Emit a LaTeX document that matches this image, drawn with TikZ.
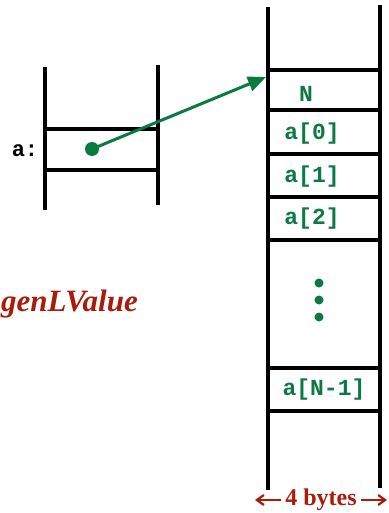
\documentclass[tikz,border=0pt]{standalone}
\usepackage{fontspec}
\setmainfont{Liberation Serif}
\setmonofont{Liberation Mono}
\usetikzlibrary{arrows.meta}
\definecolor{cgreen}{RGB}{10,122,65}
\definecolor{cred}{RGB}{170,28,10}
\begin{document}
\begin{tikzpicture}[x=1pt,y=-1pt,
  wall/.style={line width=3.5pt,black},
  cell/.style={font=\ttfamily\bfseries\fontsize{23}{23}\selectfont,text=cgreen,inner sep=0pt},
  redtxt/.style={font=\bfseries\fontsize{24}{24}\selectfont,text=cred,inner sep=0pt}]
\useasboundingbox (0,0) rectangle (388,513);
% left box
\draw[wall] (45,67) -- (45,210);
\draw[wall] (158,65) -- (158,205);
\draw[wall] (45,129) -- (158,129);
\draw[wall] (45,170) -- (158,170);
\node[font=\ttfamily\bfseries\fontsize{22}{22}\selectfont,inner sep=0pt] (alabel) at (25,151) {a:};
\node[circle,fill=cgreen,minimum size=14pt,inner sep=0pt] (dot) at (92,149) {};
% right column
\draw[wall] (268,7) -- (268,490);
\draw[wall] (380,5) -- (380,488);
\foreach \yy in {70,110,154,197,240,368,411}
  \draw[wall] (268,\yy) -- (380,\yy);
\coordinate (target) at (266,77);
\node[cell] (N) at (306,94) {N};
\node[cell] (a0) at (312,134) {a[0]};
\node[cell] (a1) at (312,177) {a[1]};
\node[cell] (a2) at (312,219) {a[2]};
\foreach \yy [count=\i] in {283,300,317}
  \node[circle,fill=cgreen,minimum size=9pt,inner sep=0pt] (d\i) at (319,\yy) {};
\node[cell] (aN) at (324,390) {a[N-1]};
% pointer
\draw[cgreen,line width=3pt,-{Triangle[length=18pt,width=15pt]}] (dot.center) -- (target);
% genLValue
\node[font=\bfseries\itshape\fontsize{31}{31}\selectfont,text=cred,inner sep=0pt,anchor=east] (gen) at (138,304) {genLValue};
% 4 bytes
\node[redtxt] (bytes) at (321,500) {4 bytes};
\coordinate (bl) at (255,500);
\coordinate (br) at (387,500);
\draw[cred,line width=2.2pt,-{Straight Barb[length=7pt,width=10pt]}] ([xshift=-4pt]bytes.west |- 0,500) -- (bl);
\draw[cred,line width=2.2pt,-{Straight Barb[length=7pt,width=10pt]}] ([xshift=4pt]bytes.east |- 0,500) -- (br);
\end{tikzpicture}
\end{document}
